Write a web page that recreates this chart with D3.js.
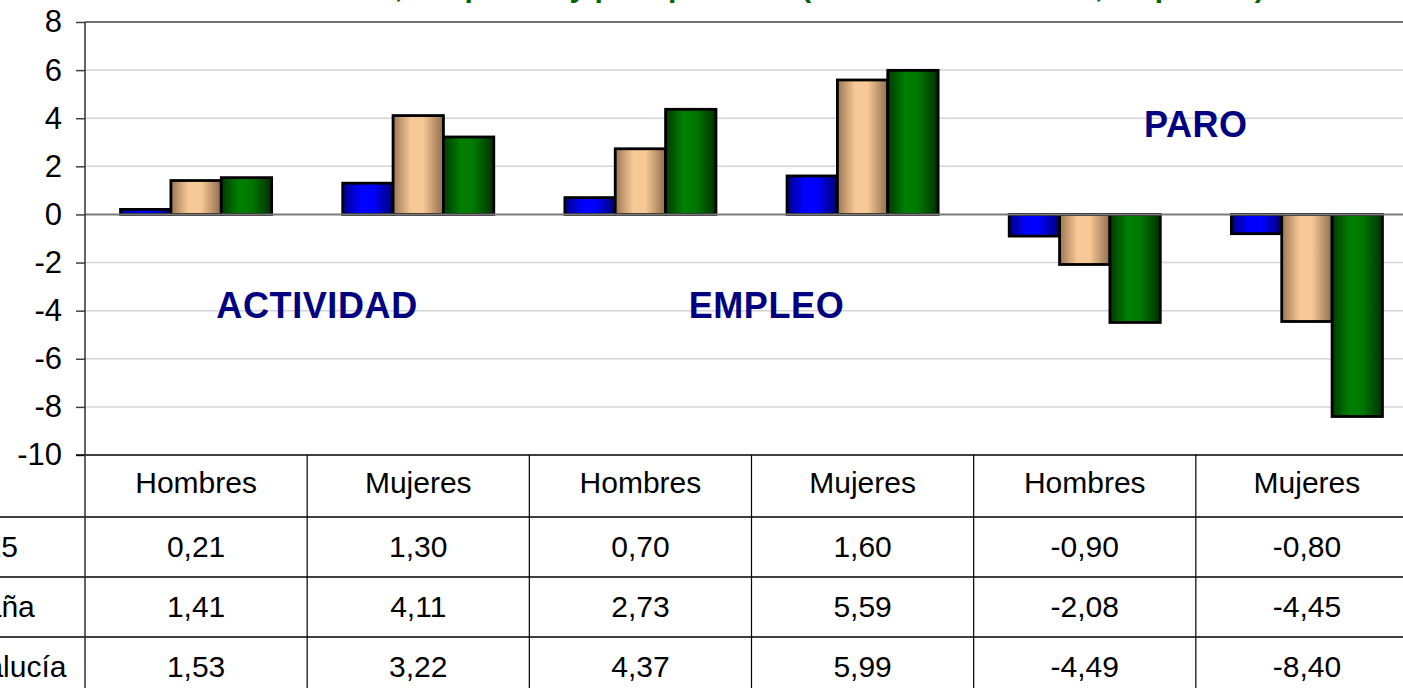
<!DOCTYPE html>
<html>
<head>
<meta charset="utf-8">
<script src="https://cdn.jsdelivr.net/npm/d3@7"></script>
<style>
  body { margin: 0; background: #fff; overflow: hidden; }
  text { font-family: 'Liberation Sans', Arial, sans-serif; }
</style>
</head>
<body>
<script>
const categories = ['Hombres', 'Mujeres', 'Hombres', 'Mujeres', 'Hombres', 'Mujeres'];
const groupLabels = ['ACTIVIDAD', 'EMPLEO', 'PARO'];
const seriesNames = ['UE-25', 'España', 'Andalucía'];
const ue25 = [0.21, 1.30, 0.70, 1.60, -0.90, -0.80];
const espana = [1.41, 4.11, 2.73, 5.59, -2.08, -4.45];
const andalucia = [1.53, 3.22, 4.37, 5.99, -4.49, -8.40];
const yTicks = [-10, -8, -6, -4, -2, 0, 2, 4, 6, 8];
const titleText = 'Tasas de actividad, ocupación y paro por sexo (variación interanual, en puntos)';

const seriesValues = [ue25, espana, andalucia];

const width = 1403, height = 688;
const plot = { left: 85, right: 1418, top: 22, bottom: 455 };
const headerH = 62, rowH = 60;

const locale = d3.formatLocale({ decimal: ',', thousands: '.', grouping: [3], currency: ['', '€'], minus: '-' });
const fmt = locale.format('.2f');

const svg = d3.select('body')
  .append('svg')
  .attr('width', width)
  .attr('height', height);

// gradients, cylinder-like shading
const defs = svg.append('defs');
const shades = [
  ['#00008a', '#0000ff', '#0000ff', '#000070'],
  ['#9a7654', '#f8c896', '#f8c896', '#8e6c4c'],
  ['#003a00', '#008000', '#007800', '#003000']
];
shades.forEach((s, i) => {
  const grad = defs.append('linearGradient')
    .attr('id', `g${i}`)
    .attr('x1', '0%').attr('x2', '100%')
    .attr('y1', '0%').attr('y2', '0%');
  [0, 35, 60, 100].forEach((o, j) => {
    grad.append('stop').attr('offset', `${o}%`).attr('stop-color', s[j]);
  });
});

const x0 = d3.scaleBand()
  .domain(d3.range(categories.length))
  .range([plot.left, plot.right])
  .padding(0);

const bw = x0.bandwidth();
const x1 = d3.scaleBand()
  .domain(d3.range(seriesNames.length))
  .range([bw * 0.16, bw * 0.84])
  .padding(0);

const y = d3.scaleLinear()
  .domain([-10, 8])
  .range([plot.bottom, plot.top]);

// title (mostly above the visible area)
svg.append('text')
  .attr('x', 130)
  .attr('y', -3.5)
  .attr('fill', '#006400')
  .attr('font-size', 30)
  .attr('font-weight', 'bold')
  .text(titleText);

// gridlines
svg.append('g')
  .selectAll('line')
  .data(yTicks.filter(d => d !== 0 && d !== -10 && d !== 8))
  .join('line')
  .attr('x1', plot.left).attr('x2', plot.right)
  .attr('y1', d => y(d)).attr('y2', d => y(d))
  .attr('stroke', '#d4d4d4')
  .attr('stroke-width', 1.5);

svg.append('line')
  .attr('x1', plot.left).attr('x2', plot.right)
  .attr('y1', y(8)).attr('y2', y(8))
  .attr('stroke', '#707070')
  .attr('stroke-width', 2);

// bars
const groups = svg.append('g')
  .selectAll('g')
  .data(categories.map((c, i) => i))
  .join('g')
  .attr('transform', i => `translate(${x0(i)}, 0)`);

groups.selectAll('rect')
  .data(i => seriesValues.map((vals, s) => ({ s, v: vals[i] })))
  .join('rect')
  .attr('x', d => x1(d.s))
  .attr('width', x1.bandwidth())
  .attr('y', d => y(Math.max(0, d.v)))
  .attr('height', d => Math.abs(y(d.v) - y(0)))
  .attr('fill', d => `url(#g${d.s})`)
  .attr('stroke', '#000')
  .attr('stroke-width', 2.8);

// zero line
svg.append('line')
  .attr('x1', plot.left).attr('x2', plot.right)
  .attr('y1', y(0)).attr('y2', y(0))
  .attr('stroke', '#7a7a7a')
  .attr('stroke-width', 2);

// y axis
const yAxis = svg.append('g')
  .attr('transform', `translate(${plot.left}, 0)`)
  .call(d3.axisLeft(y).tickValues(yTicks).tickSize(9).tickPadding(14).tickFormat(locale.format('d')));

yAxis.select('.domain').remove();
yAxis.selectAll('.tick line').attr('stroke', '#404040').attr('stroke-width', 1.5);
yAxis.selectAll('.tick text')
  .attr('font-size', 31)
  .attr('font-family', "'Liberation Sans', Arial, sans-serif")
  .attr('fill', '#000');

// group annotations
const labelPos = [[1, -4.3, 0.45], [3, -4.3, 0.68], [5, 3.2, 0.0]];
svg.append('g')
  .selectAll('text')
  .data(groupLabels)
  .join('text')
  .attr('x', (d, i) => x0(labelPos[i][0]) + labelPos[i][2] * 22)
  .attr('y', (d, i) => y(labelPos[i][1]))
  .attr('text-anchor', 'middle')
  .attr('font-size', 36)
  .attr('font-weight', 'bold')
  .attr('letter-spacing', 0.6)
  .attr('fill', '#000080')
  .text(d => d);

// data table
const table = svg.append('g');
const tableBottom = plot.bottom + headerH + rowH * seriesNames.length;

table.selectAll('text.head')
  .data(categories)
  .join('text')
  .attr('class', 'head')
  .attr('x', (d, i) => x0(i) + bw / 2)
  .attr('y', plot.bottom + 38)
  .attr('text-anchor', 'middle')
  .attr('font-size', 30)
  .text(d => d);

seriesValues.forEach((vals, s) => {
  const rowTop = plot.bottom + headerH + rowH * s;
  table.append('g')
    .selectAll('text')
    .data(vals)
    .join('text')
    .attr('x', (d, i) => x0(i) + bw / 2)
    .attr('y', rowTop + 40)
    .attr('text-anchor', 'middle')
    .attr('font-size', 30)
    .text(d => fmt(d));

  // row names start left of the visible area, as in the original crop
  table.append('text')
    .attr('x', -67)
    .attr('y', rowTop + 40)
    .attr('font-size', 30)
    .text(seriesNames[s]);
});

// table grid
table.append('line')
  .attr('x1', plot.left - 9).attr('x2', plot.right)
  .attr('y1', plot.bottom).attr('y2', plot.bottom)
  .attr('stroke', '#000').attr('stroke-width', 1.5);

table.selectAll('line.row')
  .data(d3.range(seriesNames.length))
  .join('line')
  .attr('class', 'row')
  .attr('x1', 0).attr('x2', plot.right)
  .attr('y1', s => plot.bottom + headerH + rowH * s)
  .attr('y2', s => plot.bottom + headerH + rowH * s)
  .attr('stroke', '#000').attr('stroke-width', 1.5);

table.selectAll('line.col')
  .data(d3.range(1, categories.length))
  .join('line')
  .attr('class', 'col')
  .attr('x1', i => x0(i)).attr('x2', i => x0(i))
  .attr('y1', plot.bottom).attr('y2', tableBottom)
  .attr('stroke', '#000').attr('stroke-width', 1.2);

// left axis line through the plot and the table
svg.append('line')
  .attr('x1', plot.left).attr('x2', plot.left)
  .attr('y1', plot.top).attr('y2', tableBottom)
  .attr('stroke', '#303030')
  .attr('stroke-width', 1.5);
</script>
</body>
</html>
